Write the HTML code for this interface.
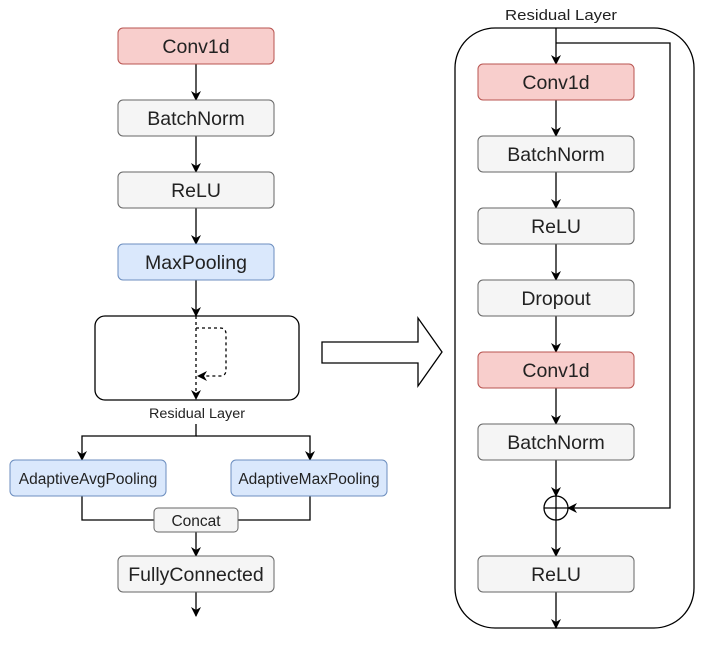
<!DOCTYPE html>
<html><head><meta charset="utf-8"><style>
html,body{margin:0;padding:0;background:#fff;width:717px;height:650px;overflow:hidden}
text{font-family:"Liberation Sans",sans-serif;fill:#222}
</style></head><body>
<svg width="717" height="650" viewBox="0 0 717 650" xmlns="http://www.w3.org/2000/svg">
<defs>
<marker id="a" viewBox="0 0 10 10" refX="9" refY="5" markerWidth="10" markerHeight="10" markerUnits="userSpaceOnUse" orient="auto">
<path d="M0,0 L10,5 L0,10 L3,5 z" fill="#000"/></marker>
</defs>
<g stroke="#000" stroke-width="1.3" fill="none">
<line x1="196" y1="64" x2="196" y2="100" marker-end="url(#a)"/>
<line x1="196" y1="136" x2="196" y2="172" marker-end="url(#a)"/>
<line x1="196" y1="208" x2="196" y2="244" marker-end="url(#a)"/>
<line x1="196" y1="280" x2="196" y2="316" marker-end="url(#a)"/>
<rect x="95" y="316" width="204" height="84" rx="10"/>
<line x1="196" y1="316" x2="196" y2="399" stroke-dasharray="3,3" marker-end="url(#a)"/>
<path d="M196,328 H220 Q226,328 226,334 V370 Q226,376 220,376 H198" stroke-dasharray="3,3" marker-end="url(#a)"/>
<path d="M196,424 V436 H82 V460" marker-end="url(#a)"/>
<path d="M196,436 H310 V460" marker-end="url(#a)"/>
<path d="M82,496 V520 H154"/>
<path d="M310,496 V520 H238"/>
<line x1="196" y1="532" x2="196" y2="556" marker-end="url(#a)"/>
<line x1="196" y1="592" x2="196" y2="616" marker-end="url(#a)"/>
<path d="M322,342 H418 V318 L442,352 L418,386 V363 H322 Z" stroke-width="1.3"/>
<rect x="455" y="28" width="239" height="600" rx="40"/>
<line x1="556" y1="28" x2="556" y2="64" marker-end="url(#a)"/>
<path d="M556,43 H670 V508 H568" marker-end="url(#a)"/>
<line x1="556" y1="100" x2="556" y2="136" marker-end="url(#a)"/>
<line x1="556" y1="172" x2="556" y2="208" marker-end="url(#a)"/>
<line x1="556" y1="244" x2="556" y2="280" marker-end="url(#a)"/>
<line x1="556" y1="316" x2="556" y2="352" marker-end="url(#a)"/>
<line x1="556" y1="388" x2="556" y2="424" marker-end="url(#a)"/>
<line x1="556" y1="460" x2="556" y2="496" marker-end="url(#a)"/>
<circle cx="556" cy="508" r="12"/>
<line x1="544" y1="508" x2="568" y2="508"/>
<line x1="556" y1="496" x2="556" y2="520"/>
<line x1="556" y1="520" x2="556" y2="556" marker-end="url(#a)"/>
<line x1="556" y1="592" x2="556" y2="628" marker-end="url(#a)"/>
</g>
<g stroke-width="1">
<rect x="118" y="28" width="156" height="36" rx="5" fill="#f8cecc" stroke="#b85450"/>
<rect x="118" y="100" width="156" height="36" rx="5" fill="#f5f5f5" stroke="#666"/>
<rect x="118" y="172" width="156" height="36" rx="5" fill="#f5f5f5" stroke="#666"/>
<rect x="118" y="244" width="156" height="36" rx="5" fill="#dae8fc" stroke="#6c8ebf"/>
<rect x="10" y="460" width="156" height="36" rx="5" fill="#dae8fc" stroke="#6c8ebf"/>
<rect x="231" y="460" width="156" height="36" rx="5" fill="#dae8fc" stroke="#6c8ebf"/>
<rect x="154" y="508" width="84" height="24" rx="4" fill="#f5f5f5" stroke="#666"/>
<rect x="118" y="556" width="156" height="36" rx="5" fill="#f5f5f5" stroke="#666"/>
<rect x="478" y="64" width="156" height="36" rx="5" fill="#f8cecc" stroke="#b85450"/>
<rect x="478" y="136" width="156" height="36" rx="5" fill="#f5f5f5" stroke="#666"/>
<rect x="478" y="208" width="156" height="36" rx="5" fill="#f5f5f5" stroke="#666"/>
<rect x="478" y="280" width="156" height="36" rx="5" fill="#f5f5f5" stroke="#666"/>
<rect x="478" y="352" width="156" height="36" rx="5" fill="#f8cecc" stroke="#b85450"/>
<rect x="478" y="424" width="156" height="36" rx="5" fill="#f5f5f5" stroke="#666"/>
<rect x="478" y="556" width="156" height="36" rx="5" fill="#f5f5f5" stroke="#666"/>
</g>
<g text-anchor="middle" font-size="19.5">
<text x="196" y="53">Conv1d</text>
<text x="196" y="125" fill="#333">BatchNorm</text>
<text x="196" y="197" fill="#333">ReLU</text>
<text x="196" y="269">MaxPooling</text>
<text x="196" y="581" fill="#333">FullyConnected</text>
<text x="556" y="89">Conv1d</text>
<text x="556" y="161" fill="#333">BatchNorm</text>
<text x="556" y="233" fill="#333">ReLU</text>
<text x="556" y="305" fill="#333">Dropout</text>
<text x="556" y="377">Conv1d</text>
<text x="556" y="449" fill="#333">BatchNorm</text>
<text x="556" y="581" fill="#333">ReLU</text>
</g>
<g text-anchor="middle" font-size="15.5">
<text x="88" y="484">AdaptiveAvgPooling</text>
<text x="309" y="484">AdaptiveMaxPooling</text>
<text x="196" y="526">Concat</text>
</g>
<text x="505" y="20" font-size="15" textLength="112" lengthAdjust="spacingAndGlyphs">Residual Layer</text>
<text x="149" y="418" font-size="13.5" textLength="96" lengthAdjust="spacingAndGlyphs">Residual Layer</text>
</svg>
</body></html>
